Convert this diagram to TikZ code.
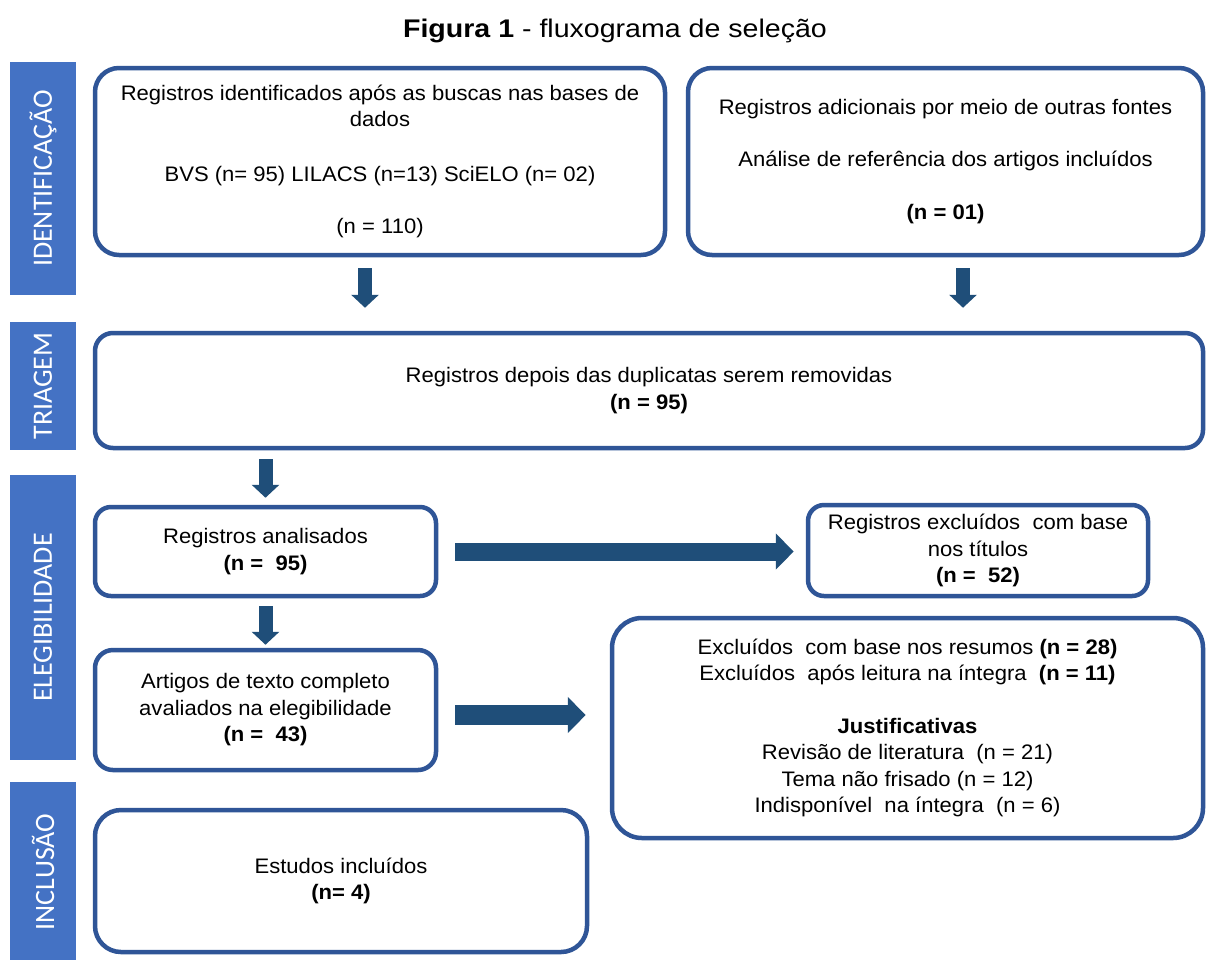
\documentclass[tikz,border=0pt]{standalone}
\usepackage{fontspec}
\setmainfont{Liberation Sans}[FakeStretch=1.05]
\newfontfamily\sidefont{Carlito}
\newfontfamily\titlefont{Liberation Sans}[FakeStretch=1.12]
\usetikzlibrary{arrows.meta,calc}
\definecolor{sideblue}{HTML}{4472C4}
\definecolor{boxblue}{HTML}{2F5597}
\definecolor{arrowblue}{HTML}{1F4E79}
\begin{document}
\begin{tikzpicture}[x=1pt,y=-1pt,
  sidebar/.style={fill=sideblue, draw=none, text=white, rotate=90, inner sep=0pt,
    minimum height=66pt, font=\sidefont\fontsize{28}{30}\selectfont},
  box/.style={draw=boxblue, line width=4.5pt, fill=white, align=center, inner sep=0pt,
    rounded corners=#1, font=\fontsize{21}{26.5}\selectfont},
  box/.default=18pt,
  downarrow/.style={draw=arrowblue, line width=14pt, -{Triangle[length=13pt,width=27pt]}},
  rightarrow/.style={draw=arrowblue, line width=18pt, -{Triangle[length=18pt,width=35pt]}}
]
\useasboundingbox (0,0) rectangle (1206,959);
\fill[white] (0,0) rectangle (1206,959);

\node (title) at (615,31) {\titlefont\fontsize{25.5}{28}\selectfont\textbf{Figura 1} - fluxograma de seleção};

% side bars
\node[sidebar, minimum width=233pt] (s1) at (43,178.5) {IDENTIFICAÇÃO};
\node[sidebar, minimum width=128pt] (s2) at (43,386) {TRIAGEM};
\node[sidebar, minimum width=285pt] (s3) at (43,617.5) {ELEGIBILIDADE};
\node[sidebar, minimum width=180pt] (s4) at (43,872) {INCLUSÃO};

% boxes
\node[box=24pt, minimum width=570pt, minimum height=187pt] (b1) at (380,161.5)
  {Registros identificados após as buscas nas bases de\\dados\\[28pt]BVS (n= 95) LILACS (n=13) SciELO (n= 02)\\[26pt](n = 110)};
\node[box=24pt, minimum width=515pt, minimum height=187pt] (b2) at (945.5,161.5)
  {Registros adicionais por meio de outras fontes\\[26pt]Análise de referência dos artigos incluídos\\[26pt]\textbf{(n = 01)}};
\node[box=18pt, minimum width=1108pt, minimum height=115pt] (tri) at (649,390.5)
  {Registros depois das duplicatas serem removidas\\\textbf{(n = 95)}};
\node[box=16pt, minimum width=341pt, minimum height=89pt] (an) at (265.5,551.5)
  {Registros analisados\\\textbf{(n =\ \ 95)}};
\node[box=16pt, minimum width=340pt, minimum height=91pt] (ex) at (978,550.5)
  {Registros excluídos\ \ com base\\nos títulos\\\textbf{(n =\ \ 52)}};
\node[box=18pt, minimum width=341pt, minimum height=120pt] (ar) at (265.5,710)
  {Artigos de texto completo\\avaliados na elegibilidade\\\textbf{(n =\ \ 43)}};
\node[box=30pt, minimum width=591pt, minimum height=220pt] (big) at (907.5,728)
  {Excluídos\ \ com base nos resumos \textbf{(n = 28)}\\Excluídos\ \ após leitura na íntegra\ \ \textbf{(n = 11)}\\[26pt]\textbf{Justificativas}\\Revisão de literatura\ \ (n = 21)\\Tema não frisado (n = 12)\\Indisponível\ \ na íntegra\ \ (n = 6)};
\node[box=26pt, minimum width=492pt, minimum height=142pt] (es) at (341,881)
  {Estudos incluídos\\\textbf{(n= 4)}};

% arrow end points
\coordinate (a1s) at ($(b1.south)+(-15,11)$);
\coordinate (a1e) at (a1s |- tri.north);
\coordinate (a2s) at ($(b2.south)+(17.5,11)$);
\coordinate (a2e) at (a2s |- tri.north);

% arrows
\draw[downarrow] (a1s) -- ([yshift=23pt]a1e);
\draw[downarrow] (a2s) -- ([yshift=23pt]a2e);
\draw[downarrow] ([yshift=-9pt]an.north |- tri.south) -- ([yshift=7pt]an.north);
\draw[downarrow] ([yshift=-8pt]an.south) -- ([yshift=3pt]ar.north);
\draw[rightarrow] ([xshift=17pt]an.east) -- ([xshift=-12pt]an.east -| ex.west);
\draw[rightarrow, line width=20pt] ([xshift=17pt,yshift=-5pt]ar.east) -- ([xshift=-24pt,yshift=-5pt]ar.east -| big.west);
\end{tikzpicture}
\end{document}
